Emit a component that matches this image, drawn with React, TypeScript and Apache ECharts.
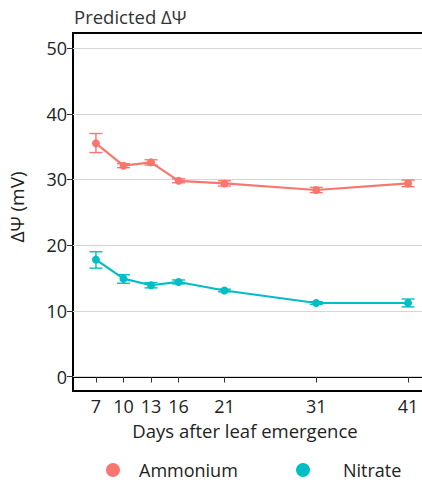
import React, { useEffect, useRef } from "react";
import * as echarts from "echarts";

const days = [7, 10, 13, 16, 21, 31, 41];
const ammoniumMean = [35.5, 32.1, 32.6, 29.8, 29.4, 28.4, 29.4];
const ammoniumLow = [34.1, 31.8, 32.2, 29.5, 29.0, 28.0, 28.9];
const ammoniumHigh = [37.0, 32.4, 33.0, 30.1, 29.8, 28.8, 29.9];
const nitrateMean = [17.8, 14.9, 13.9, 14.4, 13.1, 11.2, 11.2];
const nitrateLow = [16.5, 14.2, 13.5, 14.1, 12.9, 11.0, 10.6];
const nitrateHigh = [19.0, 15.5, 14.3, 14.7, 13.3, 11.4, 11.8];
const yTicks = [0, 10, 20, 30, 40, 50];
const seriesNames = ["Ammonium", "Nitrate"];
const colors = ["#F8766D", "#00BFC4"];

const FONT = "'Open Sans', sans-serif";

function errorSeries(name: string, color: string, lo: number[], hi: number[]) {
  return {
    name,
    type: "custom",
    data: days.map((d, i) => [d, lo[i], hi[i]]),
    encode: { x: 0, y: [1, 2] },
    z: 3,
    silent: true,
    renderItem: (params: any, api: any) => {
      const x = api.value(0);
      const p1 = api.coord([x, api.value(1)]);
      const p2 = api.coord([x, api.value(2)]);
      const w = 6.5;
      const style = { stroke: color, lineWidth: 1.4 };
      return {
        type: "group",
        children: [
          { type: "line", shape: { x1: p1[0], y1: p1[1], x2: p2[0], y2: p2[1] }, style },
          { type: "line", shape: { x1: p1[0] - w, y1: p1[1], x2: p1[0] + w, y2: p1[1] }, style },
          { type: "line", shape: { x1: p2[0] - w, y1: p2[1], x2: p2[0] + w, y2: p2[1] }, style },
        ],
      };
    },
  };
}

export default function App() {
  const ref = useRef<HTMLDivElement>(null);
  useEffect(() => {
    if (!ref.current) return;
    const chart = echarts.init(ref.current, undefined, { renderer: "svg" });
    chart.setOption({
      animation: false,
      textStyle: { fontFamily: FONT },
      title: {
        text: "Predicted ΔΨ",
        left: 69,
        top: 2,
        textStyle: { fontFamily: FONT, fontSize: 18.5, fontWeight: "normal", color: "#333" },
      },
      legend: [
        {
          data: [seriesNames[0]],
          left: 101,
          top: 456,
          icon: "circle",
          itemWidth: 14,
          itemHeight: 14,
          textStyle: { fontFamily: FONT, fontSize: 18, color: "#222", padding: [0, 0, 0, 14] },
        },
        {
          data: [seriesNames[1]],
          left: 291,
          top: 456,
          icon: "circle",
          itemWidth: 14,
          itemHeight: 14,
          textStyle: { fontFamily: FONT, fontSize: 18, color: "#222", padding: [0, 0, 0, 28] },
        },
      ],
      grid: {
        left: 73,
        top: 33,
        bottom: 91,
        width: 358,
        outerBoundsMode: "none",
        containLabel: false,
        show: true,
        borderColor: "#000",
        borderWidth: 2,
        backgroundColor: "transparent",
      },
      xAxis: {
        type: "value",
        min: 4.5,
        max: 43.5,
        name: "Days after leaf emergence",
        nameLocation: "middle",
        nameGap: 30,
        nameTextStyle: { fontFamily: FONT, fontSize: 18.5, color: "#222", padding: [0, 0, 0, -14] },
        axisLine: { show: true, lineStyle: { color: "#000", width: 2 } },
        axisTick: { show: true, customValues: days, length: 6, lineStyle: { color: "#333", width: 1 } },
        axisLabel: {
          customValues: days,
          fontFamily: FONT,
          fontSize: 18,
          color: "#222",
          margin: 6,
        },
        splitLine: { show: false },
      },
      yAxis: {
        type: "value",
        min: -2.2,
        max: 52.3,
        name: "ΔΨ (mV)",
        nameLocation: "middle",
        nameGap: 47,
        nameRotate: 90,
        nameTextStyle: { fontFamily: FONT, fontSize: 19, color: "#222", padding: [0, 0, 0, 10] },
        axisLine: { show: true, lineStyle: { color: "#000", width: 2 } },
        axisTick: { show: true, customValues: yTicks, length: 6, lineStyle: { color: "#333", width: 1 } },
        axisLabel: {
          customValues: yTicks,
          fontFamily: FONT,
          fontSize: 18,
          color: "#222",
          margin: 6,
        },
        splitLine: { show: false },
      },
      series: [
        {
          name: seriesNames[0],
          type: "line",
          data: days.map((d, i) => [d, ammoniumMean[i]]),
          color: colors[0],
          symbol: "circle",
          symbolSize: 8,
          lineStyle: { width: 2.2 },
          z: 4,
          markLine: {
            silent: true,
            symbol: "none",
            label: { show: false },
            lineStyle: { color: "#d6d6d6", width: 1.2, type: "solid" },
            data: yTicks.map((v) => ({ yAxis: v })),
            z: 1,
          },
        },
        {
          name: seriesNames[1],
          type: "line",
          data: days.map((d, i) => [d, nitrateMean[i]]),
          color: colors[1],
          symbol: "circle",
          symbolSize: 8,
          lineStyle: { width: 2.2 },
          z: 4,
        },
        errorSeries(seriesNames[0], colors[0], ammoniumLow, ammoniumHigh),
        errorSeries(seriesNames[1], colors[1], nitrateLow, nitrateHigh),
      ],
    });
    return () => chart.dispose();
  }, []);
  return (
    <div
      ref={ref}
      style={{ position: "fixed", left: 0, top: 0, width: 422, height: 482, background: "#fff" }}
    />
  );
}
